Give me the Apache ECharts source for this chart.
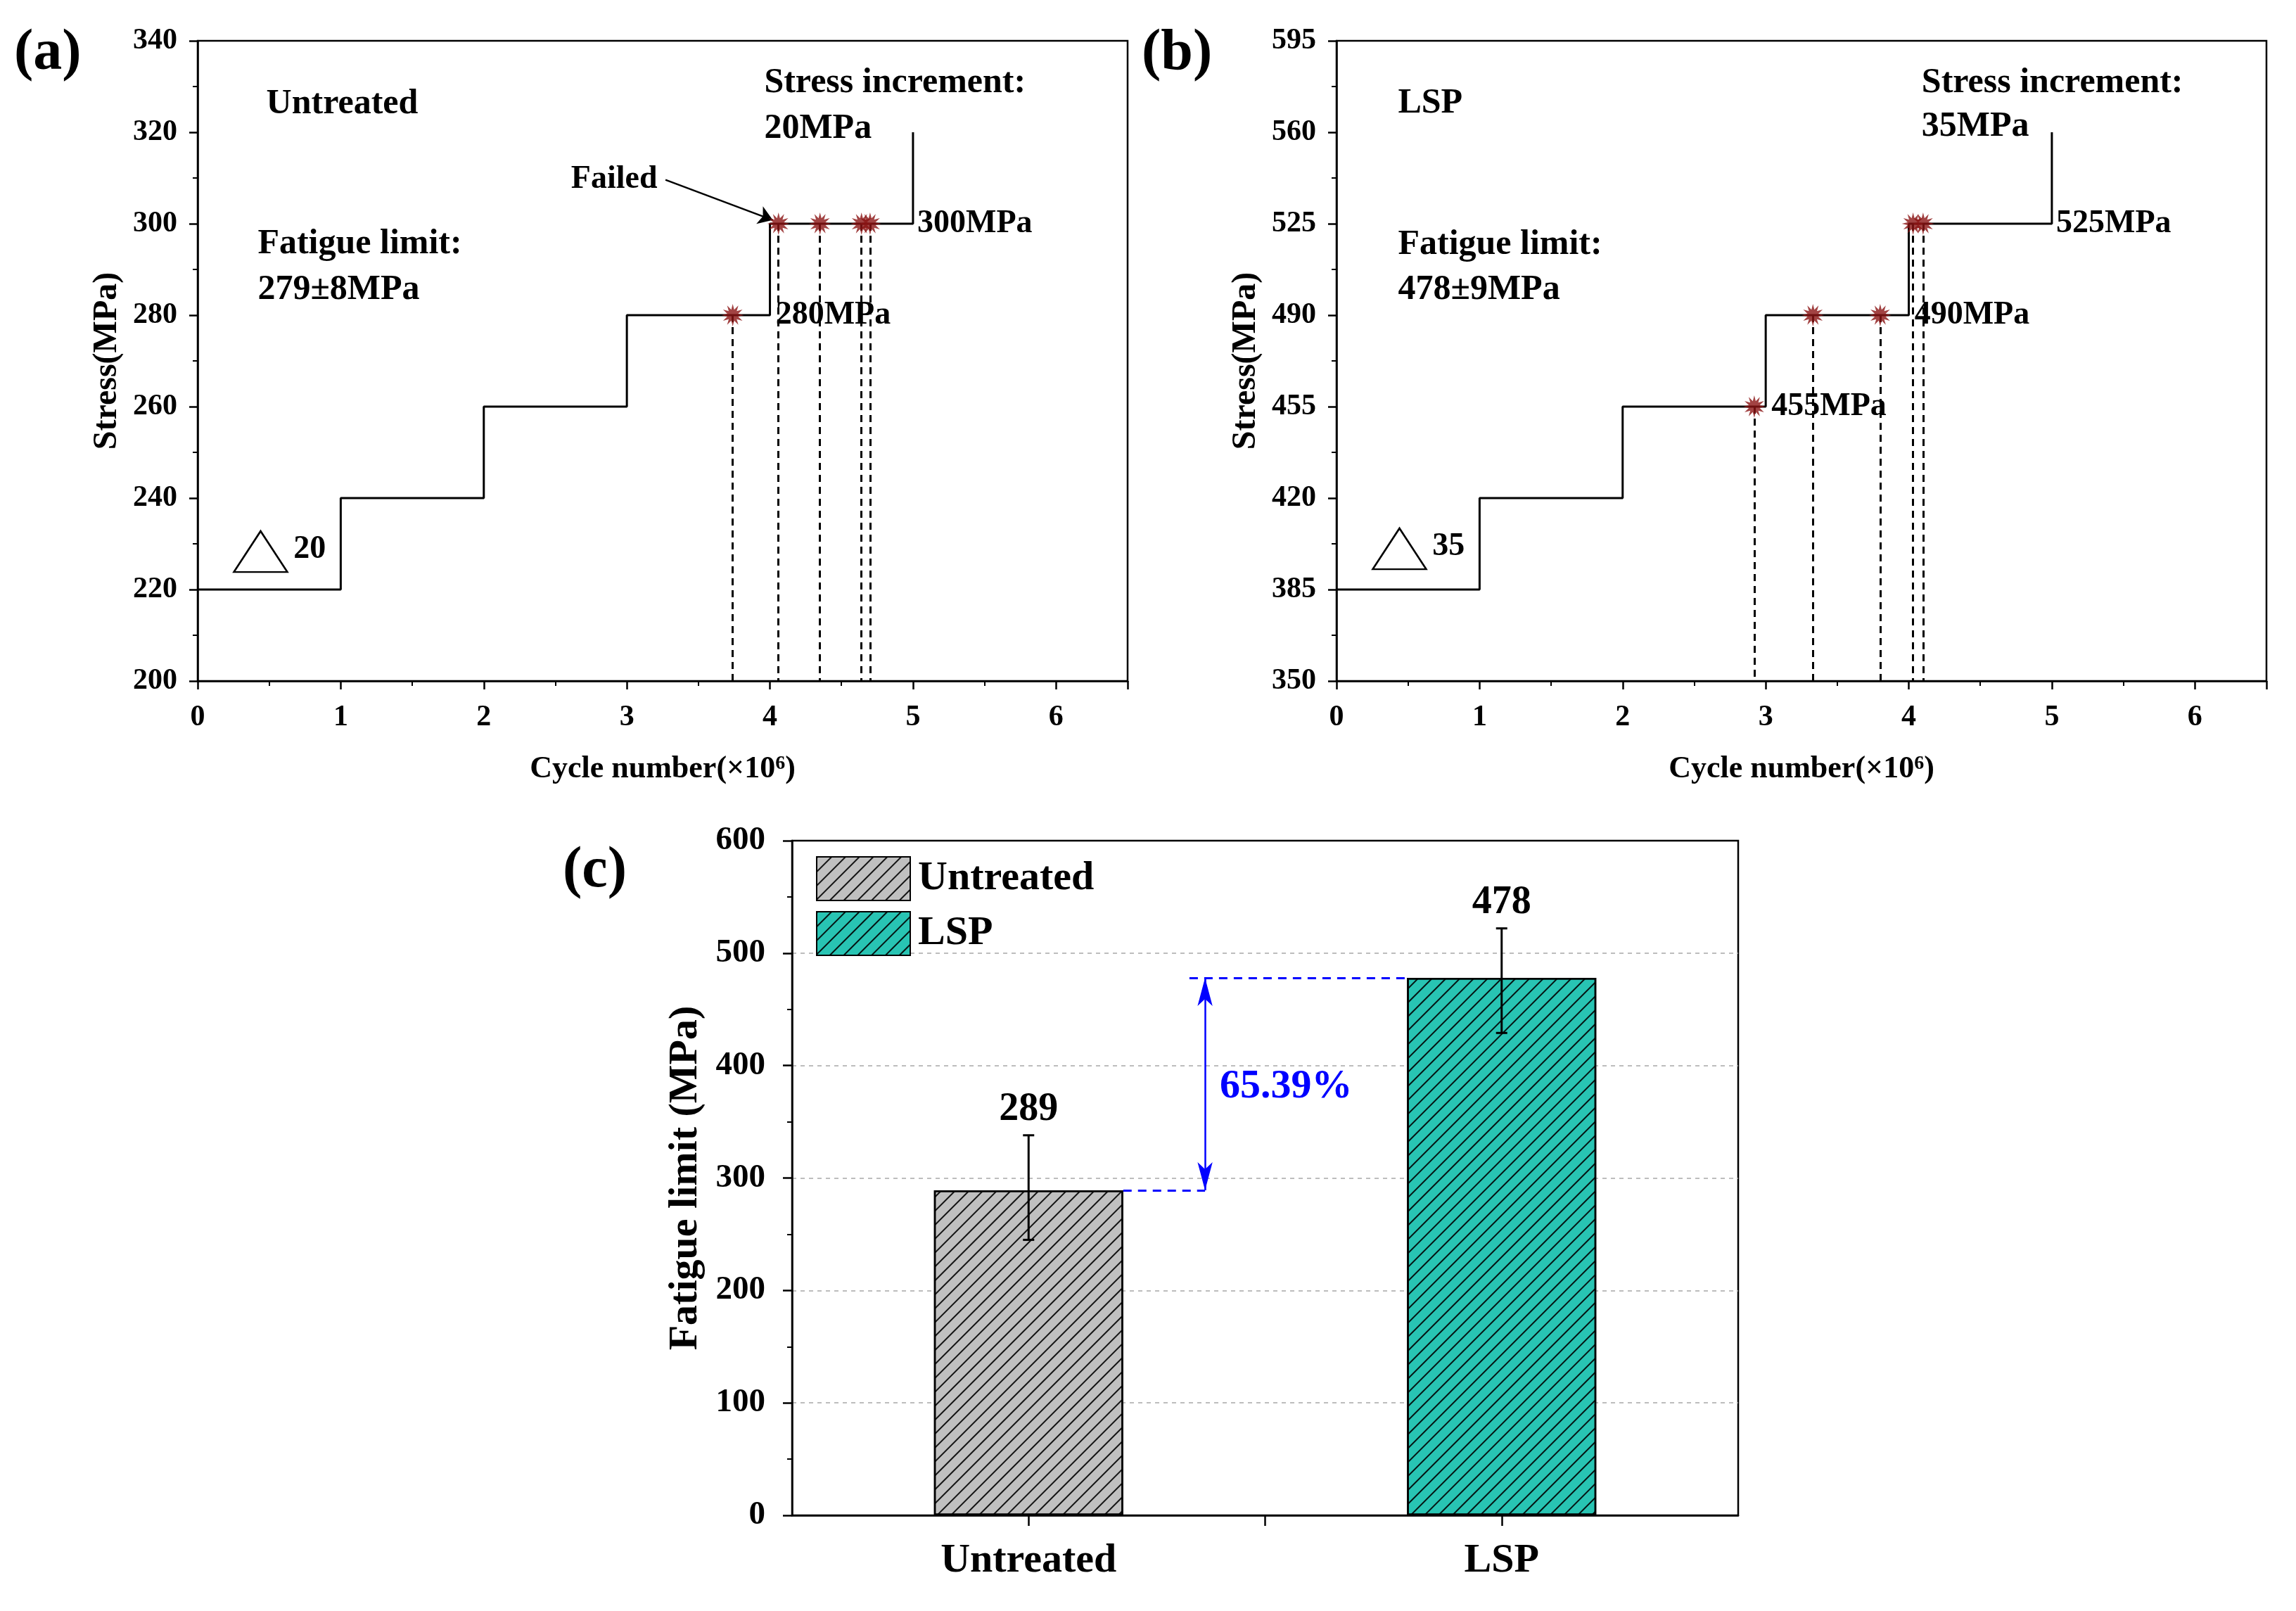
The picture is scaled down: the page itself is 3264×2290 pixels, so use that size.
<!DOCTYPE html>
<html><head><meta charset="utf-8">
<script src="https://cdn.jsdelivr.net/npm/echarts@6/dist/echarts.min.js"></script>
<style>html,body{margin:0;padding:0;background:#fff}#c{width:3264px;height:2290px}</style>
</head><body><div id="c"></div>
<script>
// ---------------- data ----------------
const blockStartA = [0, 1, 2, 3, 4, 5];              // ×10^6 cycles
const stressLevelsA = [220, 240, 260, 280, 300, 320]; // MPa
const failedCyclesA = [3.74, 4.06, 4.35, 4.64, 4.70];
const failedStressA = [280, 300, 300, 300, 300];

const blockStartB = [0, 1, 2, 3, 4, 5];
const stressLevelsB = [385, 420, 455, 490, 525, 560];
const failedCyclesB = [2.92, 3.33, 3.80, 4.03, 4.10];
const failedStressB = [455, 490, 490, 525, 525];

const treatments = ['Untreated', 'LSP'];
const fatigueMean = [289, 478];
const errLow = [245, 429];
const errHigh = [338, 522];
const improvementText = '65.39%';

// ---------------- style helpers ----------------
const FF = '"Liberation Serif","Times New Roman",serif';
function starPath(n, rIn) {
  let d = '';
  for (let i = 0; i < 2 * n; i++) {
    const r = i % 2 ? rIn : 1, a = Math.PI * i / n;
    d += (i ? 'L' : 'M') + (50 + 50 * r * Math.sin(a)).toFixed(2) + ' ' + (50 - 50 * r * Math.cos(a)).toFixed(2);
  }
  return 'path://' + d + 'Z';
}
const STAR = starPath(12, 0.5);
const txt = (size, extra) => Object.assign({fontFamily: FF, fontWeight: 'bold', fontSize: size, color: '#000'}, extra || {});

function stepAxisX(gi) {
  return {
    type: 'value', gridIndex: gi, min: 0, max: 6.5, interval: 1,
    axisLine: {show: true, onZero: false, lineStyle: {color: '#000', width: 2.5}},
    axisTick: {show: true, inside: false, length: 12, lineStyle: {color: '#000', width: 2.5}},
    minorTick: {show: true, splitNumber: 2, length: 7, lineStyle: {color: '#000', width: 2}},
    axisLabel: Object.assign(txt(42), {margin: 31, showMaxLabel: false}),
    splitLine: {show: false},
    name: 'Cycle number(×10{sup|6})', nameLocation: 'middle', nameGap: 104,
    nameTextStyle: txt(44, {rich: {sup: txt(28, {verticalAlign: 'top', padding: [0, 0, 14, 0]})}})
  };
}
function stepAxisY(gi, mn, mx, iv) {
  return {
    type: 'value', gridIndex: gi, min: mn, max: mx, interval: iv,
    axisLine: {show: true, onZero: false, lineStyle: {color: '#000', width: 2.5}},
    axisTick: {show: true, inside: false, length: 12, lineStyle: {color: '#000', width: 2.5}},
    minorTick: {show: true, splitNumber: 2, length: 7, lineStyle: {color: '#000', width: 2}},
    axisLabel: Object.assign(txt(42), {margin: 29}),
    splitLine: {show: false},
    name: 'Stress(MPa)', nameLocation: 'middle', nameGap: 104,
    nameTextStyle: txt(48)
  };
}
function textMark(coord, text, size, extra) {
  return {coord: coord, symbol: 'circle', symbolSize: 1, itemStyle: {color: 'rgba(0,0,0,0)'},
    label: Object.assign(txt(size || 48), {show: true, position: 'inside', align: 'left', verticalAlign: 'middle', formatter: text}, extra || {})};
}
function triMark(coord) {
  return {coord: coord, symbol: 'triangle', symbolSize: [76, 58],
    itemStyle: {color: 'rgba(0,0,0,0)', borderColor: '#000', borderWidth: 2.5}, label: {show: false}};
}
function stepSeries(gi, xs, levels, marks, lines) {
  return {
    type: 'line', xAxisIndex: gi, yAxisIndex: gi, step: 'end', symbol: 'none', silent: true, z: 3,
    data: xs.map((x, i) => [x, levels[i]]),
    lineStyle: {color: '#000', width: 3},
    markPoint: {silent: true, data: marks},
    markLine: lines ? {silent: true, symbol: ['none', 'arrow'], symbolSize: 20, label: {show: false},
      lineStyle: {color: '#000', width: 2.5, type: 'solid'}, data: lines} : undefined
  };
}
function failSeries(gi, xs, ys, yMin) {
  return {
    type: 'scatter', xAxisIndex: gi, yAxisIndex: gi, symbol: STAR, symbolSize: 32, z: 5, silent: true,
    itemStyle: {color: '#8b1414'},
    data: xs.map((x, i) => [x, ys[i]]),
    markLine: {silent: true, symbol: 'none', label: {show: false}, z: 1,
      lineStyle: {color: '#000', width: 3, type: [10, 7]},
      data: xs.map((x, i) => [{coord: [x, ys[i]]}, {coord: [x, yMin]}])}
  };
}

const decal = {symbol: 'rect', symbolSize: 1, dashArrayX: [1, 0], dashArrayY: [1.6, 11.5], rotation: -Math.PI / 4, color: 'rgba(0,0,0,0.9)'};
const barColors = ['#c0c0c0', '#28c4b3'];

const option = {
  animation: false,
  backgroundColor: '#fff',
  grid: [
    {left: 281, top: 58, width: 1322, height: 910, show: true, borderColor: '#000', borderWidth: 2.5, backgroundColor: 'transparent'},
    {left: 1900, top: 58, width: 1322, height: 910, show: true, borderColor: '#000', borderWidth: 2.5, backgroundColor: 'transparent'},
    {left: 1126, top: 1195, width: 1345, height: 959, show: true, borderColor: '#000', borderWidth: 2.5, backgroundColor: 'transparent'}
  ],
  xAxis: [
    stepAxisX(0), stepAxisX(1),
    {type: 'value', gridIndex: 2, min: -0.5, max: 1.5, interval: 0.5,
     axisLine: {show: true, onZero: false, lineStyle: {color: '#000', width: 2.5}},
     axisTick: {show: true, inside: false, length: 15, lineStyle: {color: '#000', width: 2.5}},
     axisLabel: Object.assign(txt(58), {margin: 36, showMinLabel: false, showMaxLabel: false,
       formatter: v => (Math.abs(v - Math.round(v)) < 1e-9 && treatments[Math.round(v)]) ? treatments[Math.round(v)] : ''}),
     splitLine: {show: false}}
  ],
  yAxis: [
    stepAxisY(0, 200, 340, 20), stepAxisY(1, 350, 595, 35),
    {type: 'value', gridIndex: 2, min: 0, max: 600, interval: 100,
     axisLine: {show: true, onZero: false, lineStyle: {color: '#000', width: 2.5}},
     axisTick: {show: true, inside: false, length: 13, lineStyle: {color: '#000', width: 2.5}},
     minorTick: {show: true, splitNumber: 2, length: 7, lineStyle: {color: '#000', width: 2}},
     axisLabel: Object.assign(txt(47), {margin: 38}),
     splitLine: {show: true, showMinLine: false, showMaxLine: false, lineStyle: {color: '#a8a8a8', width: 1.5, type: [6, 6]}},
     name: 'Fatigue limit (MPa)', nameLocation: 'middle', nameGap: 122, nameTextStyle: txt(58)}
  ],
  legend: {
    data: treatments, left: 1155, top: 1212, orient: 'vertical', itemWidth: 133, itemHeight: 62, itemGap: 14,
    icon: 'rect', textStyle: txt(58, {padding: [0, 0, 0, 6]}), selectedMode: false
  },
  graphic: [
    {type: 'text', left: 20, top: 36, style: {text: '(a)', font: 'bold 82px ' + FF, fill: '#000'}},
    {type: 'text', left: 1623, top: 36, style: {text: '(b)', font: 'bold 82px ' + FF, fill: '#000'}},
    {type: 'text', left: 800, top: 1198, style: {text: '(c)', font: 'bold 82px ' + FF, fill: '#000'}}
  ],
  series: [
    stepSeries(0, blockStartA, stressLevelsA, [
      textMark([0.48, 326.2], 'Untreated', 50),
      textMark([0.42, 295.5], 'Fatigue limit:', 50),
      textMark([0.42, 285.5], '279±8MPa', 50),
      textMark([3.96, 330.7], 'Stress increment:', 50),
      textMark([3.96, 320.8], '20MPa', 50),
      textMark([2.61, 309.6], 'Failed', 46),
      textMark([5.03, 300], '300MPa', 46),
      textMark([4.04, 280], '280MPa', 46),
      triMark([0.44, 228.3]),
      textMark([0.67, 228.8], '20', 46)
    ], [[{coord: [3.27, 309.6]}, {coord: [4.02, 300.8]}]]),
    failSeries(0, failedCyclesA, failedStressA, 200),
    stepSeries(1, blockStartB, stressLevelsB, [
      textMark([0.43, 570.9], 'LSP', 50),
      textMark([0.43, 517], 'Fatigue limit:', 50),
      textMark([0.43, 499.7], '478±9MPa', 50),
      textMark([4.09, 578.7], 'Stress increment:', 50),
      textMark([4.09, 562], '35MPa', 50),
      textMark([5.03, 525], '525MPa', 46),
      textMark([4.04, 490], '490MPa', 46),
      textMark([3.04, 455], '455MPa', 46),
      triMark([0.44, 400.6]),
      textMark([0.67, 401.5], '35', 46)
    ]),
    failSeries(1, failedCyclesB, failedStressB, 350),
    {
      name: treatments[0], type: 'bar', xAxisIndex: 2, yAxisIndex: 2, barWidth: 269, barGap: '-100%', silent: true,
      data: [[0, fatigueMean[0]]],
      itemStyle: {color: barColors[0], borderColor: '#000', borderWidth: 2.5, decal: decal}
    },
    {
      name: treatments[1], type: 'bar', xAxisIndex: 2, yAxisIndex: 2, barWidth: 269, barGap: '-100%', silent: true,
      data: [[1, fatigueMean[1]]],
      itemStyle: {color: barColors[1], borderColor: '#000', borderWidth: 2.5, decal: decal},
      markLine: {silent: true, label: {show: false}, data: [
        [{coord: [0.2, fatigueMean[0]], symbol: 'none', lineStyle: {color: '#0000ff', width: 3, type: [12, 9]}},
         {coord: [0.373, fatigueMean[0]], symbol: 'none'}],
        [{coord: [0.34, fatigueMean[1]], symbol: 'none', lineStyle: {color: '#0000ff', width: 3, type: [12, 9]}},
         {coord: [0.8, fatigueMean[1]], symbol: 'none'}],
        [{coord: [0.373, fatigueMean[0]], symbol: 'arrow', symbolSize: [16, 40], lineStyle: {color: '#0000ff', width: 2.5, type: 'solid'}},
         {coord: [0.373, fatigueMean[1]], symbol: 'arrow', symbolSize: [16, 40]}]
      ]},
      markPoint: {silent: true, data: [textMark([0.404, 381], improvementText, 58, {color: '#0000ff'})]}
    },
    {
      type: 'custom', xAxisIndex: 2, yAxisIndex: 2, silent: true, z: 10,
      data: treatments.map((t, i) => [i, errLow[i], errHigh[i], fatigueMean[i]]),
      encode: {x: 0, y: [1, 2]},
      renderItem: function (params, api) {
        const x = api.value(0), lo = api.value(1), hi = api.value(2), m = api.value(3);
        const pH = api.coord([x, hi]), pL = api.coord([x, lo]);
        const cap = 8;
        const st = {stroke: '#000', lineWidth: 3};
        return {type: 'group', children: [
          {type: 'line', shape: {x1: pH[0], y1: pH[1], x2: pL[0], y2: pL[1]}, style: st},
          {type: 'line', shape: {x1: pH[0] - cap, y1: pH[1], x2: pH[0] + cap, y2: pH[1]}, style: st},
          {type: 'line', shape: {x1: pL[0] - cap, y1: pL[1], x2: pL[0] + cap, y2: pL[1]}, style: st},
          {type: 'text', style: {text: String(m), x: pH[0], y: pH[1] - 8, textAlign: 'center', textVerticalAlign: 'bottom',
            font: 'bold 56px ' + FF, fill: '#000'}}
        ]};
      }
    }
  ]
};
const chart = echarts.init(document.getElementById('c'), null, {renderer: 'canvas', width: 3264, height: 2290});
chart.setOption(option);
</script></body></html>
